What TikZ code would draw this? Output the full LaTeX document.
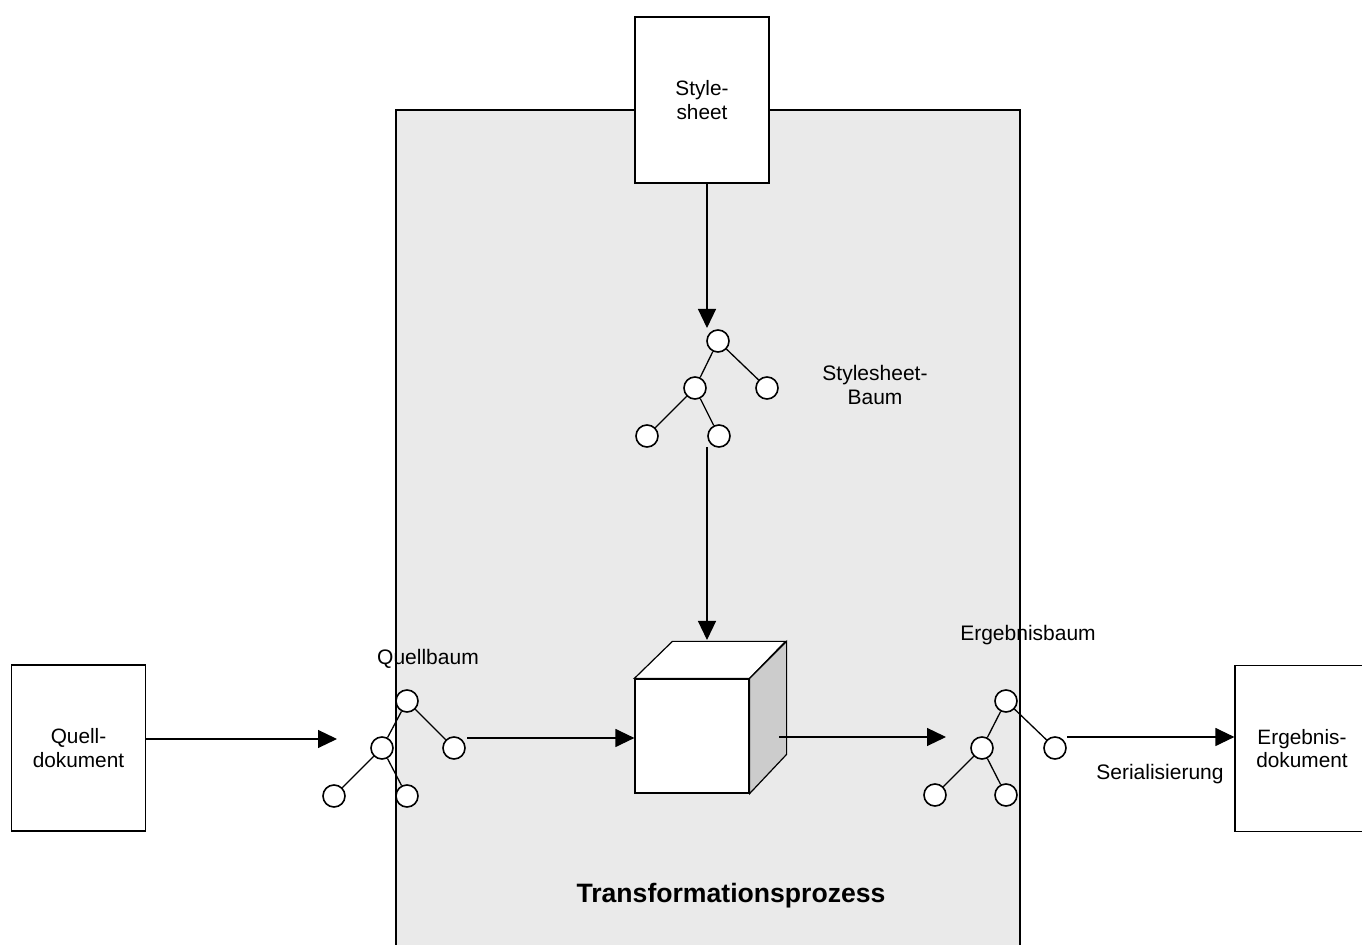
\documentclass[tikz,border=0pt]{standalone}
\usepackage{fontspec}
\setmainfont{Liberation Sans}
\usetikzlibrary{arrows.meta}
\definecolor{procbg}{RGB}{234,234,234}
\definecolor{cubeside}{RGB}{204,204,204}
\begin{document}
\begin{tikzpicture}[x=0.5pt,y=-0.5pt,
  lw/.style={line width=0.6pt},
  docbox/.style={draw,lw,fill=white,minimum width=67pt,minimum height=83pt,inner sep=0pt,align=center,font=\fontsize{10.4}{11.6}\selectfont},
  tn/.style={circle,draw,line width=0.8pt,fill=white,minimum size=11pt,inner sep=0pt},
  tedge/.style={line width=0.65pt},
  arr/.style={lw,-{Triangle[length=9.5pt,width=9pt]}},
  lbl/.style={inner sep=0pt,align=center,font=\fontsize{10.5}{12}\selectfont},
]
\useasboundingbox (0,0) rectangle (1362,945);
\clip (0,0) rectangle (1362,945);
% process area
\fill[procbg] (396,110) rectangle (1020,960);
\draw[lw] (396,960) -- (396,110) -- (1020,110) -- (1020,960);
\node[lbl,font=\fontsize{13.3}{15}\selectfont\bfseries] (tp) at (731,896) {Transformationsprozess};

% documents
\node[docbox] (ss) at (702,100) {Style-\\sheet};
\node[docbox] (qd) at (78.5,748) {Quell-\\dokument};
\node[docbox] (ed) at (1302,748.5) {Ergebnis-\\dokument};

% stylesheet tree
\node[tn] (sr) at (718,341) {};
\node[tn] (sl) at (695,388) {};
\node[tn] (srr) at (767,388) {};
\node[tn] (sll) at (647,436) {};
\node[tn] (slr) at (719,436) {};
\draw[tedge] (sr) -- (sl);
\draw[tedge] (sr) -- (srr);
\draw[tedge] (sl) -- (sll);
\draw[tedge] (sl) -- (slr);
\node[lbl] (sbl) at (875,385) {Stylesheet-\\Baum};

% source tree
\node[tn] (qr) at (407,701) {};
\node[tn] (ql) at (382,748) {};
\node[tn] (qrr) at (454,748) {};
\node[tn] (qll) at (334,796) {};
\node[tn] (qlr) at (407,796) {};
\draw[tedge] (qr) -- (ql);
\draw[tedge] (qr) -- (qrr);
\draw[tedge] (ql) -- (qll);
\draw[tedge] (ql) -- (qlr);
\node[lbl] (qbl) at (428,659) {Quellbaum};

% result tree
\node[tn] (er) at (1006,701) {};
\node[tn] (el) at (982,748) {};
\node[tn] (err) at (1055,748) {};
\node[tn] (ell) at (935,795) {};
\node[tn] (elr) at (1006,795) {};
\draw[tedge] (er) -- (el);
\draw[tedge] (er) -- (err);
\draw[tedge] (el) -- (ell);
\draw[tedge] (el) -- (elr);
\node[lbl] (ebl) at (1028,635) {Ergebnisbaum};

% cube
\node[draw,lw,fill=white,minimum size=57pt,inner sep=0pt] (cube) at (692,736) {};
\draw[lw,fill=white] (cube.north west) -- ++(38,-37) -- ++(113,0) -- (cube.north east) -- cycle;
\draw[lw,fill=cubeside] (cube.north east) -- ++(37,-37) -- ++(0,113) -- (cube.south east) -- cycle;

% connectors
\coordinate (sstip) at (707,328);
\draw[arr] (ss.south -| sstip) -- (sstip);
\coordinate (sdown) at (707,447);
\coordinate (cubetop) at (707,640);
\draw[arr] (sdown) -- (cubetop);

\coordinate (qin) at (337,739);
\draw[arr] (qd.east |- qin) -- (qin);
\coordinate (qout) at (467,738);
\draw[arr] (qout) -- (qout -| cube.west);
\coordinate (cout) at (779,737);
\coordinate (ein) at (946,737);
\draw[arr] (cout) -- (ein);
\coordinate (eout) at (1067,737);
\draw[arr] (eout) -- (eout -| ed.west);
\node[lbl] (ser) at (1160,774) {Serialisierung};
\end{tikzpicture}
\end{document}
